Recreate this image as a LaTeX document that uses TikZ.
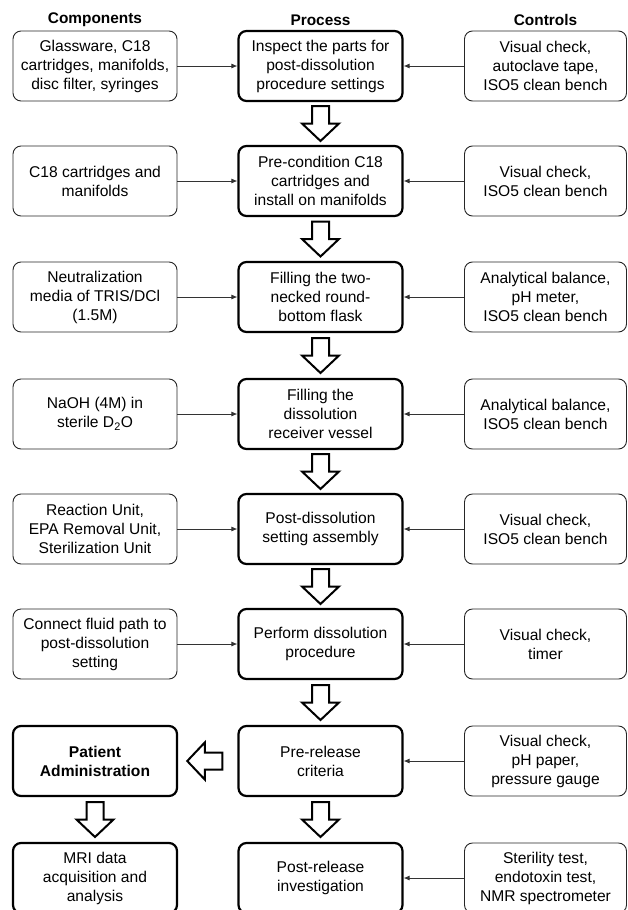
\documentclass[tikz,border=0pt]{standalone}
\usepackage{fontspec}
\setmainfont{Liberation Sans}
\usetikzlibrary{calc,arrows.meta}
\tikzset{
  sidebox/.style={draw=black!85, line width=0.9pt, rounded corners=8pt, minimum width=164pt, minimum height=70pt, align=center, inner sep=2pt, font=\fontsize{15.6}{19}\selectfont},
  rsidebox/.style={sidebox, minimum width=162pt},
  procbox/.style={sidebox, draw=black, line width=2.2pt},
  hdr/.style={font=\fontsize{15.4}{18}\selectfont\bfseries},
  conn/.style={draw=black!80, line width=0.8pt, -{Latex[length=6pt,width=5pt]}},
  blk/.style={draw=black, line width=2pt, fill=white, line join=miter},
}
\newcommand\dnarrow[2]{%
  \path (#1.south) -- coordinate[pos=0.5] (m) (#2.north);
  \draw[blk] ($(m)+(-8.5,-17.5)$) -- ($(m)+(8.5,-17.5)$) -- ($(m)+(8.5,0)$) -- ($(m)+(18.5,0)$) -- ($(m)+(0,17.5)$) -- ($(m)+(-18.5,0)$) -- ($(m)+(-8.5,0)$) -- cycle;
}
\begin{document}
\begin{tikzpicture}[x=1pt,y=-1pt]
\useasboundingbox (0,0) rectangle (628,910);
% headers
\node[hdr] (h1) at (95,20) {Components};
\node[hdr] (h2) at (320.5,20) {Process};
\node[hdr] (h3) at (545.5,20) {Controls};
% row 1
\node[sidebox] (l1) at (95,66) {Glassware, C18\\cartridges, manifolds,\\disc filter, syringes};
\node[procbox] (c1) at (320.5,66) {Inspect the parts for\\post-dissolution\\procedure settings};
\node[rsidebox] (r1) at (545.5,66) {Visual check,\\autoclave tape,\\ISO5 clean bench};
% row 2
\node[sidebox] (l2) at (95,181) {C18 cartridges and\\manifolds};
\node[procbox] (c2) at (320.5,181) {Pre-condition C18\\cartridges and\\install on manifolds};
\node[rsidebox] (r2) at (545.5,181) {Visual check,\\ISO5 clean bench};
% row 3
\node[sidebox] (l3) at (95,297) {Neutralization\\media of TRIS/DCl\\(1.5M)};
\node[procbox] (c3) at (320.5,297) {Filling the two-\\necked round-\\bottom flask};
\node[rsidebox] (r3) at (545.5,297) {Analytical balance,\\pH meter,\\ISO5 clean bench};
% row 4
\node[sidebox] (l4) at (95,414) {NaOH (4M) in\\sterile D\textsubscript{2}O};
\node[procbox] (c4) at (320.5,414) {Filling the\\dissolution\\receiver vessel};
\node[rsidebox] (r4) at (545.5,414) {Analytical balance,\\ISO5 clean bench};
% row 5
\node[sidebox] (l5) at (95,529) {Reaction Unit,\\EPA Removal Unit,\\Sterilization Unit};
\node[procbox] (c5) at (320.5,529) {Post-dissolution\\setting assembly};
\node[rsidebox] (r5) at (545.5,529) {Visual check,\\ISO5 clean bench};
% row 6
\node[sidebox] (l6) at (95,644) {Connect fluid path to\\post-dissolution\\setting};
\node[procbox] (c6) at (320.5,644) {Perform dissolution\\procedure};
\node[rsidebox] (r6) at (545.5,644) {Visual check,\\timer};
% row 7
\node[procbox] (l7) at (95,761) {\textbf{Patient}\\\textbf{Administration}};
\node[procbox] (c7) at (320.5,761) {Pre-release\\criteria};
\node[rsidebox] (r7) at (545.5,761) {Visual check,\\pH paper,\\pressure gauge};
% row 8
\node[procbox] (l8) at (95,878) {MRI data\\acquisition and\\analysis};
\node[procbox] (c8) at (320.5,878) {Post-release\\investigation};
\node[rsidebox] (r8) at (545.5,878) {Sterility test,\\endotoxin test,\\NMR spectrometer};
% thin connectors
\foreach \i in {1,...,6} {
  \draw[conn] (l\i) -- (c\i);
}
\foreach \i in {1,...,8} {
  \draw[conn] (r\i) -- (c\i);
}
% block arrows
\dnarrow{c1}{c2}
\dnarrow{c2}{c3}
\dnarrow{c3}{c4}
\dnarrow{c4}{c5}
\dnarrow{c5}{c6}
\dnarrow{c6}{c7}
\dnarrow{c7}{c8}
\dnarrow{l7}{l8}
\path (c7.west) -- coordinate[pos=0.5] (ml) (l7.east);
\coordinate (ma) at ($(ml)+(-3,0)$);
\draw[blk] ($(ma)+(17.5,-8.5)$) -- ($(ma)+(17.5,8.5)$) -- ($(ma)+(0,8.5)$) -- ($(ma)+(0,18.5)$) -- ($(ma)+(-17.5,0)$) -- ($(ma)+(0,-18.5)$) -- ($(ma)+(0,-8.5)$) -- cycle;
\end{tikzpicture}
\end{document}
